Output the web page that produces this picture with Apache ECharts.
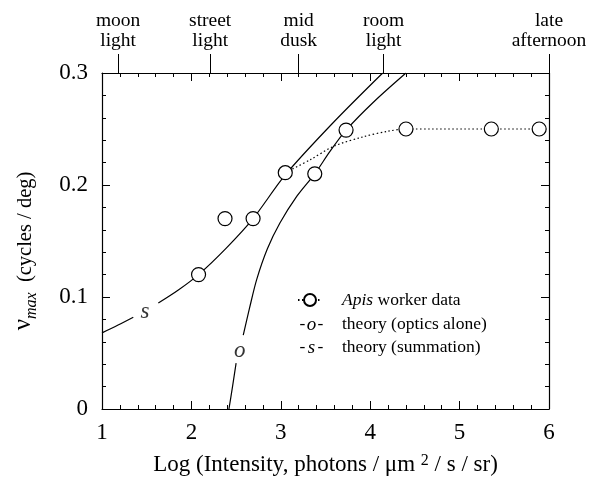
<!DOCTYPE html>
<html><head><meta charset="utf-8">
<script src="https://cdn.jsdelivr.net/npm/echarts@6/dist/echarts.min.js"></script>
<style>html,body{margin:0;padding:0;background:#fff}#c{width:601px;height:480px}</style>
</head><body><div id="c"></div>
<script>
// ---- data ----
const apisX = [2.08, 2.376, 2.69, 3.05, 3.38, 3.73, 4.40, 5.355, 5.89];
const apisY = [0.120, 0.170, 0.170, 0.211, 0.210, 0.249, 0.250, 0.250, 0.250];
const fitX = [3.05, 3.33, 3.59, 3.92, 4.20, 4.40, 5.355, 5.89];
const fitY = [0.211, 0.2226, 0.2345, 0.243, 0.248, 0.250, 0.250, 0.250];
const sX = [1.00, 1.18, 1.35, null, 1.63, 1.85, 2.08, 2.39, 2.69, 3.05, 3.59, 4.14];
const sY = [0.068, 0.075, 0.082, null, 0.0946, 0.106, 0.120, 0.1437, 0.170, 0.209, 0.256, 0.300];
const oX = [2.42, 2.46, 2.50, null, 2.58, 2.65, 2.73, 2.85, 2.99, 3.18, 3.38, 3.55, 3.73, 4.05, 4.40];
const oY = [0.000, 0.020, 0.041, null, 0.066, 0.090, 0.1155, 0.143, 0.166, 0.190, 0.210, 0.230, 0.249, 0.275, 0.300];
const curveLabelX = [1.48, 2.54];
const curveLabelY = [0.087, 0.052];
const curveLabelText = ['s', 'o'];
const topTickValues = [1.18, 2.21, 3.20, 4.15, 6.0];
const topTickLabels = ['moon\nlight', 'street\nlight', 'mid\ndusk', 'room\nlight', 'late\nafternoon'];
const seriesNames = ['Apis worker data', 'theory (optics alone)', 'theory (summation)'];
const legendKeys = ['o', 's'];

const pair = (xs, ys) => xs.map((x, i) => (x === null ? [null, null] : [x, ys[i]]));
const F = 'Liberation Serif, Times New Roman, serif';
const K = '#000';

const chart = echarts.init(document.getElementById('c'), null, {renderer: 'canvas'});
function frame(kind, extra) {
  const o = {
    type: 'value',
    axisLine: {show: true, onZero: false, lineStyle: {color: K, width: 1.2}},
    axisTick: {show: true, inside: true, length: 8, lineStyle: {color: K, width: 1}},
    minorTick: {show: true, splitNumber: 5, length: 4, lineStyle: {color: K, width: 1}},
    splitLine: {show: false}, minorSplitLine: {show: false}
  };
  if (kind === 'x') { o.min = 1; o.max = 6; o.interval = 1; }
  else { o.min = 0; o.max = 0.3; o.interval = 0.1; }
  return Object.assign(o, extra);
}

chart.setOption({
  backgroundColor: '#fff',
  animation: false,
  textStyle: {fontFamily: F, color: K},
  grid: [
    {left: 102, right: 52, top: 73, bottom: 71, outerBoundsMode: 'none', containLabel: false},
    {left: 102, right: 52, top: 73, height: 1, outerBoundsMode: 'none', containLabel: false}
  ],
  legend: [
    {
      data: [seriesNames[0]], left: 292, top: 286, orient: 'vertical',
      itemWidth: 24, itemHeight: 15, selectedMode: false,
      textStyle: {fontFamily: F, fontSize: 17.5, color: K, rich: {
        it: {fontFamily: F, fontSize: 17.5, fontStyle: 'italic', color: K},
        sp: {width: 15}
      }},
      formatter: n => '{sp|}{it|Apis}' + n.slice(4)
    },
    {
      data: seriesNames.slice(1).map(n => ({name: n, icon: 'none'})),
      left: 289, top: 310, orient: 'vertical', itemWidth: 0, itemHeight: 15,
      itemGap: 4, selectedMode: false,
      textStyle: {fontFamily: F, fontSize: 17.5, color: K, rich: {
        h: {fontFamily: F, fontSize: 17.5, color: K, width: 7, align: 'center'},
        k: {fontFamily: F, fontSize: 19, fontStyle: 'italic', color: K, width: 11, align: 'center'},
        g: {width: 18}
      }},
      formatter: n => '{h|-}{k|' + legendKeys[seriesNames.indexOf(n) - 1] + '}{h|-}{g|}' + n
    }
  ],
  xAxis: [
    frame('x', {
      gridIndex: 0, position: 'bottom',
      axisLabel: {fontFamily: F, fontSize: 23, color: K, margin: 12},
      name: '{t|Log (Intensity, photons / μm }{s|2}{t| / s / sr)}',
      nameLocation: 'middle', nameGap: 44,
      nameTextStyle: {rich: {
        t: {fontFamily: F, fontSize: 23, color: K},
        s: {fontFamily: F, fontSize: 16, color: K, verticalAlign: 'top', padding: [0, 0, 8, 0]}
      }}
    }),
    frame('x', {gridIndex: 0, position: 'top', axisLabel: {show: false}}),
    {
      gridIndex: 1, type: 'value', min: 1, max: 6, position: 'top',
      axisLine: {show: false}, splitLine: {show: false}, minorTick: {show: false},
      axisTick: {show: true, inside: false, length: 20, customValues: topTickValues, lineStyle: {color: K}},
      axisLabel: {
        show: true, customValues: topTickValues, margin: 22, fontFamily: F, fontSize: 19.5, lineHeight: 20, color: K,
        formatter: v => topTickLabels[topTickValues.indexOf(v)]
      }
    }
  ],
  yAxis: [
    frame('y', {
      gridIndex: 0, position: 'left',
      axisLabel: {fontFamily: F, fontSize: 23, color: K, margin: 14,
        formatter: v => (v === 0 ? '0' : v.toFixed(1))},
      name: '{v|ν}{m|max}{t|  (cycles / deg)}',
      nameLocation: 'middle', nameGap: 62, nameRotate: 90,
      nameTextStyle: {rich: {
        v: {fontFamily: F, fontSize: 25, color: K, padding: [0, 0, 4, 0], verticalAlign: 'bottom'},
        m: {fontFamily: F, fontSize: 16, fontStyle: 'italic', color: K, verticalAlign: 'bottom'},
        t: {fontFamily: F, fontSize: 20.5, color: K, padding: [0, 20, 4, 0], verticalAlign: 'bottom'}
      }}
    }),
    frame('y', {gridIndex: 0, position: 'right', axisLabel: {show: false}}),
    {gridIndex: 1, type: 'value', show: false}
  ],
  series: [
    {
      name: seriesNames[0], type: 'line', data: pair(fitX, fitY), smooth: 0.3,
      symbol: 'circle', symbolSize: 12, showSymbol: false,
      itemStyle: {color: '#fff', borderColor: K, borderWidth: 1.1},
      lineStyle: {color: K, width: 1.2, type: [1.5, 2.5]}, z: 2
    },
    {
      name: seriesNames[1], type: 'line', data: pair(oX, oY), smooth: 0.3,
      showSymbol: false, symbol: 'none', connectNulls: false,
      lineStyle: {color: K, width: 1.2}, itemStyle: {color: K}, z: 2
    },
    {
      name: seriesNames[2], type: 'line', data: pair(sX, sY), smooth: 0.3,
      showSymbol: false, symbol: 'none', connectNulls: false,
      lineStyle: {color: K, width: 1.2}, itemStyle: {color: K}, z: 2
    },
    {
      name: 'data points', type: 'scatter', data: pair(apisX, apisY),
      symbol: 'circle', symbolSize: 14,
      itemStyle: {color: '#fff', borderColor: K, borderWidth: 1.2, opacity: 1}, z: 5
    },
    {
      name: 'curve labels', type: 'scatter',
      data: curveLabelX.map((x, i) => [x, curveLabelY[i], curveLabelText[i]]),
      symbolSize: 1, itemStyle: {color: 'rgba(0,0,0,0)'},
      label: {show: true, position: 'inside', formatter: p => p.value[2],
        fontFamily: F, fontSize: 23, fontStyle: 'italic', color: K}, z: 6
    }
  ]
});
</script></body></html>
